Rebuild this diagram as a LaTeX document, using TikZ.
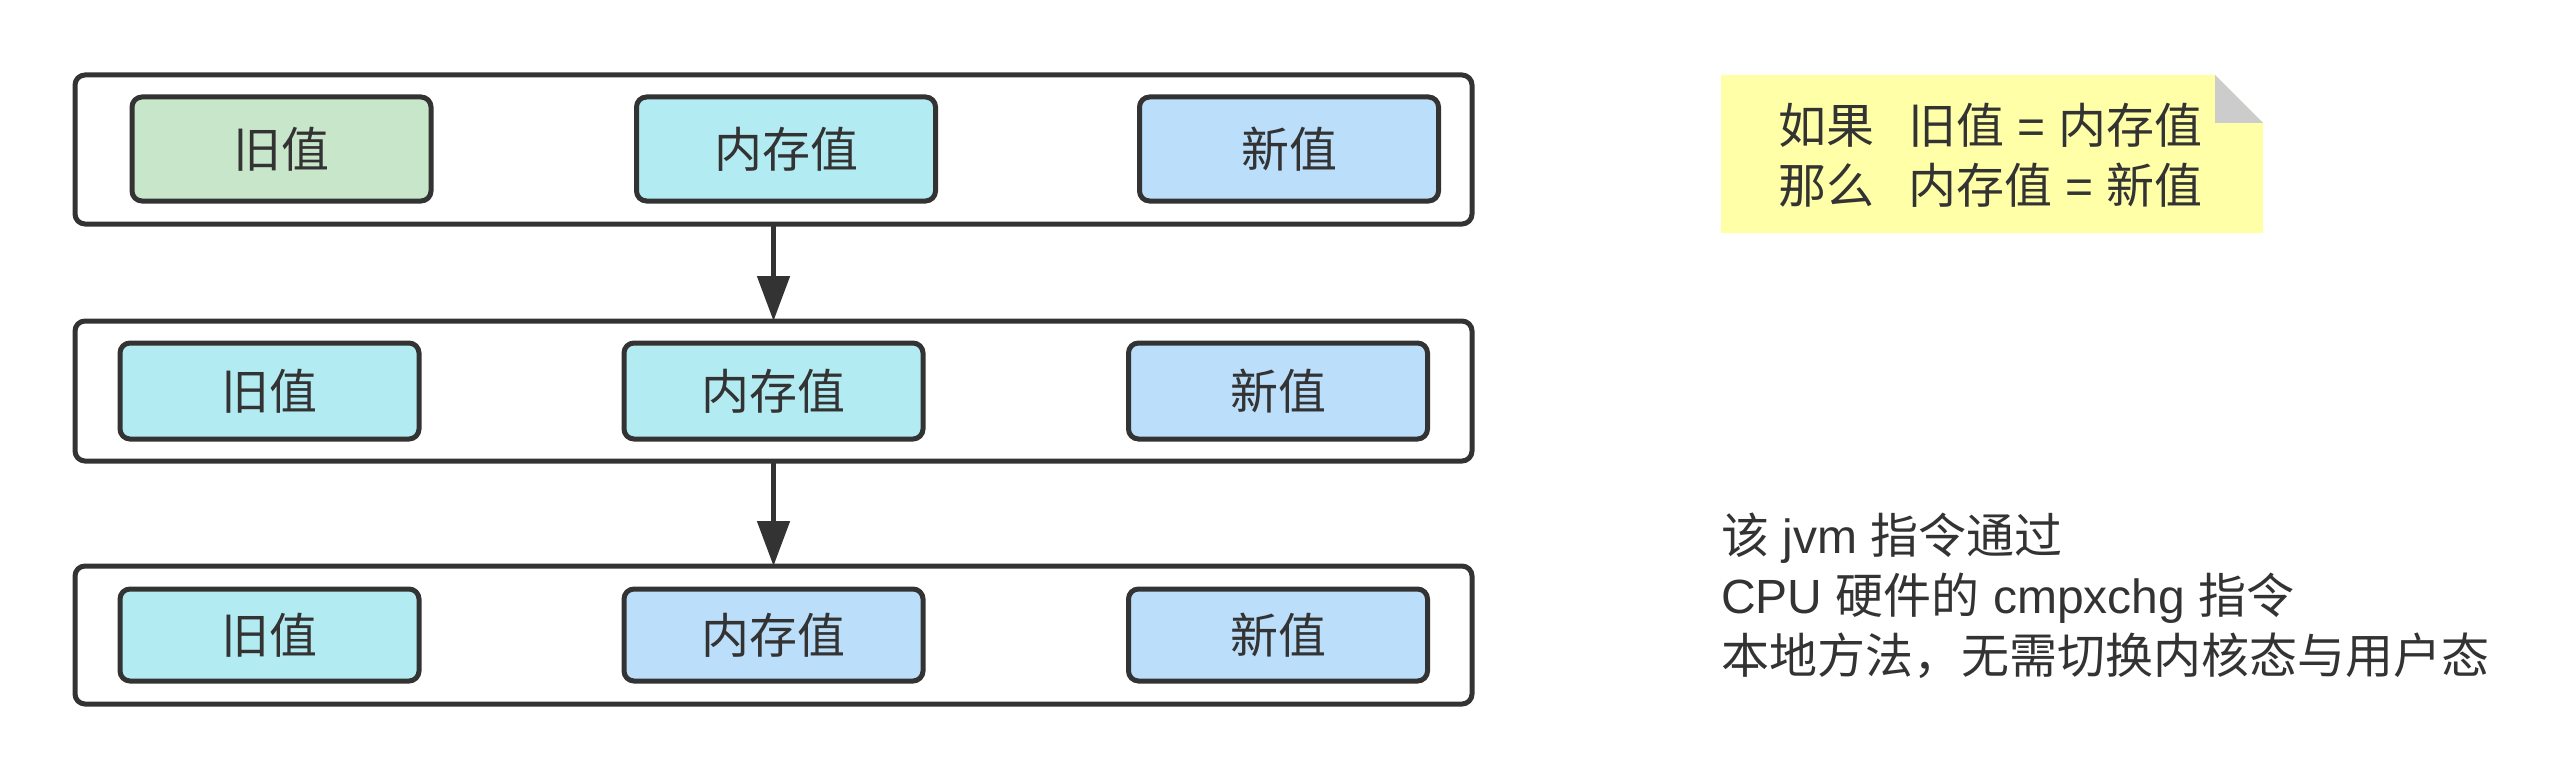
\documentclass[tikz,border=0pt]{standalone}
\usepackage{fontspec}
\setmainfont{Liberation Sans}
\newfontfamily\cjk{Noto Sans CJK SC}
\usetikzlibrary{arrows.meta}
\definecolor{ink}{HTML}{333333}
\definecolor{cgreen}{HTML}{C8E6C9}
\definecolor{ccyan}{HTML}{B2EBF2}
\definecolor{cblue}{HTML}{BBDEFB}
\definecolor{cnote}{HTML}{FFFFA8}
\definecolor{cfold}{HTML}{CCCCCC}
\begin{document}
\begin{tikzpicture}[x=1pt,y=-1pt,
  rowbox/.style={draw=ink, line width=5pt, rounded corners=10pt, fill=white,
    inner sep=0pt, outer sep=0pt, minimum width=1397pt},
  valbox/.style={draw=ink, line width=5pt, rounded corners=10pt, inner sep=0pt,
    outer sep=0pt, minimum width=299pt, text=ink,
    font=\cjk\fontsize{48}{58}\selectfont},
  flow/.style={draw=ink, line width=5pt, -{Triangle[width=32pt,length=45pt]}},
  plaintext/.style={inner sep=0pt, outer sep=0pt, text=ink, anchor=base west,
    font=\fontsize{48}{58}\selectfont}]
\useasboundingbox (0,0) rectangle (2570,781);
% rows
\node[rowbox, minimum height=149pt] (r1) at (773.5,149.5) {};
\node[rowbox, minimum height=140pt] (r2) at (773.5,391) {};
\node[rowbox, minimum height=138pt] (r3) at (773.5,635) {};
% row 1
\node[valbox, fill=cgreen, minimum height=104pt] (a1) at (281.5,149) {旧值};
\node[valbox, fill=ccyan, minimum height=104pt] (b1) at (786,149) {内存值};
\node[valbox, fill=cblue, minimum height=104pt] (c1) at (1289,149) {新值};
% row 2
\node[valbox, fill=ccyan, minimum height=96pt] (a2) at (269.5,391) {旧值};
\node[valbox, fill=ccyan, minimum height=96pt] (b2) at (773.5,391) {内存值};
\node[valbox, fill=cblue, minimum height=96pt] (c2) at (1278,391) {新值};
% row 3
\node[valbox, fill=ccyan, minimum height=92pt] (a3) at (269.5,635) {旧值};
\node[valbox, fill=cblue, minimum height=92pt] (b3) at (773.5,635) {内存值};
\node[valbox, fill=cblue, minimum height=92pt] (c3) at (1278,635) {新值};
% arrows
\draw[flow] (r1.south) -- (r2.north);
\draw[flow] (r2.south) -- (r3.north);
% note
\fill[cnote] (1721,75) -- (2215,75) -- (2263,123) -- (2263,233) -- (1721,233) -- cycle;
\fill[cfold] (2215,75) -- (2215,123) -- (2263,123) -- cycle;
\node[plaintext] (n1) at (1778,143.5) {{\cjk 如果}\hspace{34pt}{\cjk 旧值} = {\cjk 内存值}};
\node[plaintext] (n2) at (1778,203.5) {{\cjk 那么}\hspace{34pt}{\cjk 内存值} = {\cjk 新值}};
% explanation
\node[plaintext] (t1) at (1721,553.5) {{\cjk 该} jvm {\cjk 指令通过}};
\node[plaintext] (t2) at (1721,613.5) {CPU {\cjk 硬件的} cmpxchg {\cjk 指令}};
\node[plaintext] (t3) at (1721,673.5) {{\cjk 本地方法，无需切换内核态与用户态}};
\end{tikzpicture}
\end{document}
